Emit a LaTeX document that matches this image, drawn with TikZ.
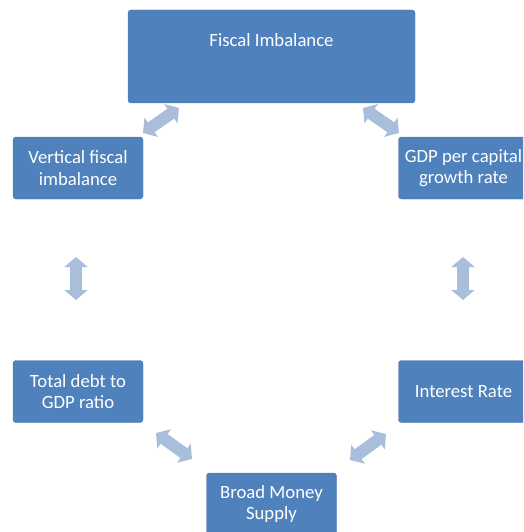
\documentclass[tikz,border=0pt]{standalone}
\usepackage{fontspec}
\setmainfont{Carlito}
\usetikzlibrary{arrows.meta}
\definecolor{boxblue}{HTML}{4F81BD}
\definecolor{arrblue}{HTML}{A9BEDB}
\tikzset{
  box/.style={rectangle, rounded corners=3pt, fill=boxblue, draw=boxblue!90!black, line width=0.4pt,
    text=white, font=\fontsize{18.7}{21.5}\selectfont, align=center,
    minimum width=130pt, minimum height=62pt, inner sep=1pt},
  blockarrow/.style={arrblue, line width=12pt,
    {Triangle[width=23pt,length=10pt]}-{Triangle[width=23pt,length=10pt]}}
}
\begin{document}
\begin{tikzpicture}[x=1pt,y=-1pt]
\useasboundingbox (0,0) rectangle (523,532);
\clip (0,0) rectangle (523,532);
\node[box, minimum width=287pt, text height=37pt, text depth=56pt, inner ysep=0pt] (fiscal) at (271.5,56.5) {Fiscal Imbalance};
\node[box] (vert) at (78,168) {Vertical fiscal\\imbalance};
\node[box] (gdp) at (463.5,168) {GDP per capital\\growth rate};
\node[box] (debt) at (78,391.5) {Total debt to\\GDP ratio};
\node[box] (interest) at (463.5,391.5) {Interest Rate};
\node[box] (money) at (271.5,504) {Broad Money\\Supply};
\coordinate (a1s) at (179,108); \coordinate (a1e) at (143,133);
\coordinate (a2s) at (363,108); \coordinate (a2e) at (399,133);
\coordinate (a3s) at (76,257);  \coordinate (a3e) at (76,300);
\coordinate (a4s) at (463,257); \coordinate (a4e) at (463,300);
\coordinate (a5s) at (156,433); \coordinate (a5e) at (192,459);
\coordinate (a6s) at (386,434); \coordinate (a6e) at (350,460);
\draw[blockarrow] (a1s) -- (a1e);
\draw[blockarrow] (a2s) -- (a2e);
\draw[blockarrow] (a3s) -- (a3e);
\draw[blockarrow] (a4s) -- (a4e);
\draw[blockarrow] (a5s) -- (a5e);
\draw[blockarrow] (a6s) -- (a6e);
\end{tikzpicture}
\end{document}
